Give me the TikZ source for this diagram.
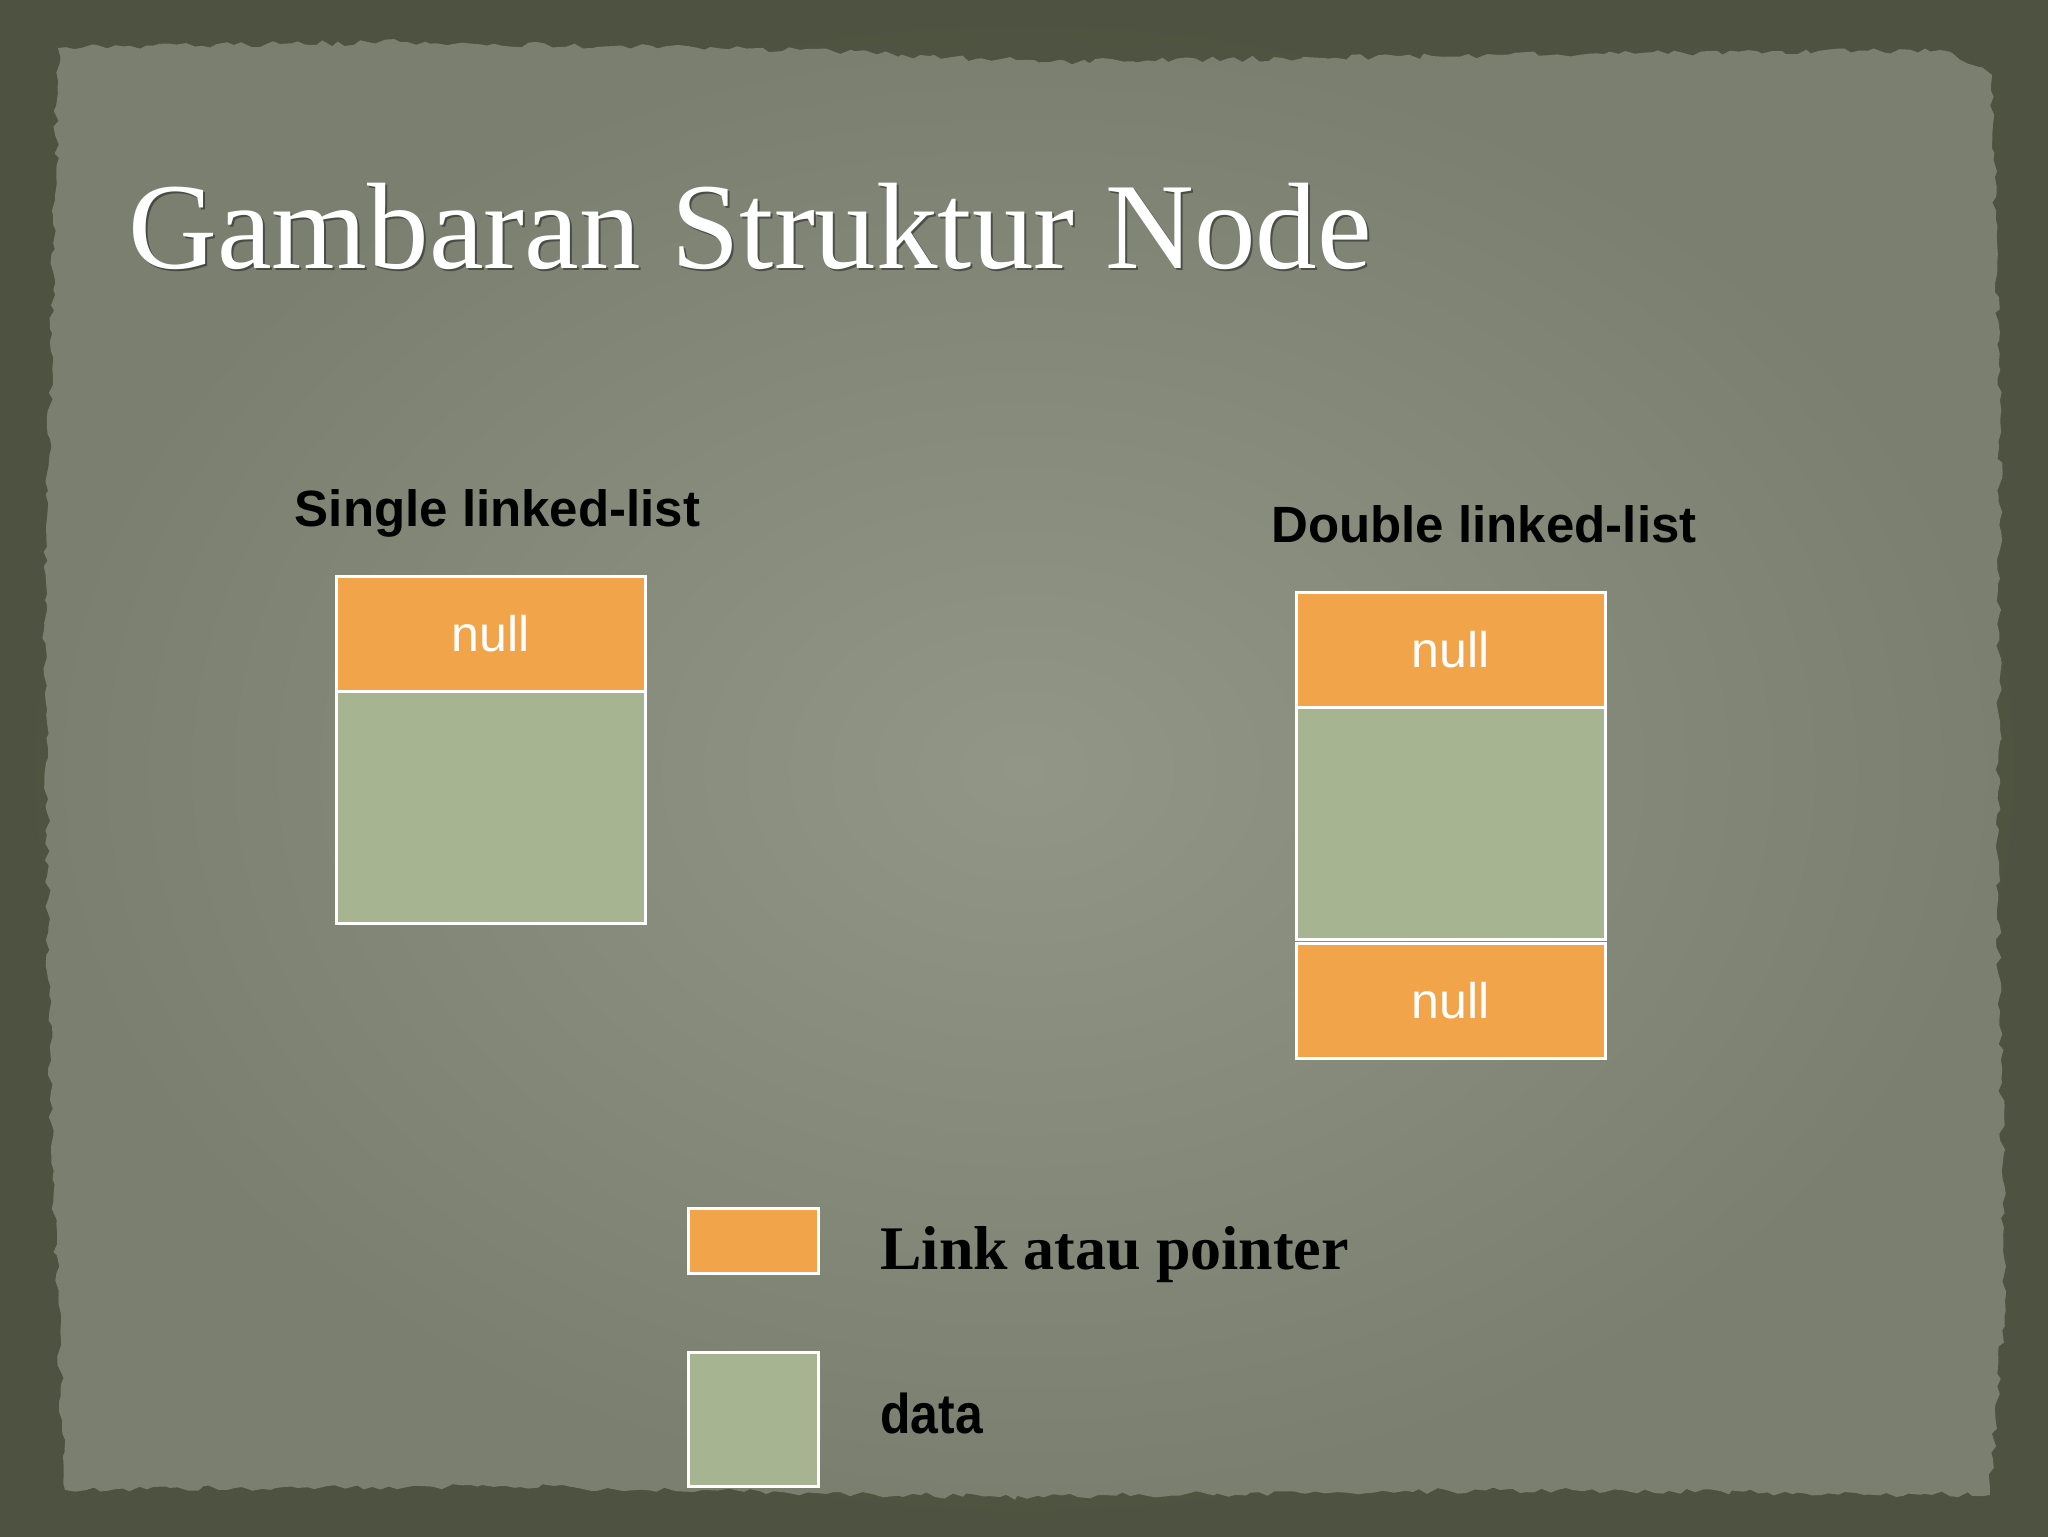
\documentclass[tikz,border=0pt]{standalone}
\usepackage{fontspec}
\setmainfont{Liberation Serif}
\setsansfont{Liberation Sans}
\usetikzlibrary{decorations.pathmorphing,shadings}
\definecolor{framec}{HTML}{5C624C}
\definecolor{framedark}{HTML}{4E5341}
\definecolor{paperin}{HTML}{929686}
\definecolor{paperout}{HTML}{7B7F70}
\definecolor{linkc}{HTML}{F2A44A}
\definecolor{datac}{HTML}{A6B491}
\tikzset{
  cell/.style={draw=white, line width=1.5pt, minimum width=154.5pt, inner sep=0pt,
    font=\sffamily\fontsize{25}{25}\selectfont, text=white},
  linkcell/.style={cell, fill=linkc, minimum height=57.5pt},
  datacell/.style={cell, fill=datac, minimum height=116pt},
  heading/.style={font=\sffamily\bfseries\fontsize{25.5}{26}\selectfont, text=black, anchor=base, inner sep=0pt},
  legbox/.style={draw=white, line width=1.5pt, minimum width=65pt, inner sep=0pt},
  titlefont/.style={font=\rmfamily\fontsize{61.5}{62}\selectfont, anchor=base west, inner sep=0pt},
}
\begin{document}
\begin{tikzpicture}[x=0.5pt,y=-0.5pt]
\useasboundingbox (0,0) rectangle (2048,1536);
% background frame
\shade[inner color=framec, outer color=framedark] (0,0) rectangle (2048,1536);
\pgfmathsetseed{7}
\shade[inner color=paperin, outer color=paperout,
  decorate, decoration={random steps, segment length=4pt, amplitude=1.5pt}]
  (58,48) -- (400,42) -- (800,50) -- (1050,62) -- (1500,55) -- (1940,50) -- (1992,75)
  -- (2000,400) -- (1998,900) -- (2005,1300) -- (1990,1495) -- (1500,1490)
  -- (1000,1497) -- (500,1486) -- (65,1490) -- (50,1100) -- (45,600) -- (55,200) -- cycle;

% title
\node[titlefont, text=black, opacity=0.4] (titleshadow) at (130,270) {Gambaran Struktur Node};
\node[titlefont, text=white] (title) at (128,268) {Gambaran Struktur Node};

% single linked list
\node[heading] (slabel) at (497.5,526) {Single linked-list};
\node[linkcell] (snull) at (490.5,633.5) {null};
\node[datacell] (sdata) at (490.5,807) {};

% double linked list
\node[heading] (dlabel) at (1484,542) {Double linked-list};
\node[linkcell] (dnull1) at (1450.5,649.5) {null};
\node[datacell] (ddata) at (1450.5,823) {};
\node[linkcell] (dnull2) at (1450.5,1000.5) {null};

% legend
\node[legbox, fill=linkc, minimum height=32.5pt] (leglink) at (753,1240.5) {};
\node[legbox, fill=datac, minimum height=67pt] (legdata) at (753,1419) {};
\node[font=\rmfamily\bfseries\fontsize{31}{32}\selectfont, anchor=base west, inner sep=0pt] (leglinktext) at (880,1269) {Link atau pointer};
\node[font=\sffamily\bfseries\fontsize{28}{28}\selectfont, anchor=base west, inner sep=0pt] (legdatatext) at (880,1433) {\scalebox{0.89}[1]{data}};
\end{tikzpicture}
\end{document}
